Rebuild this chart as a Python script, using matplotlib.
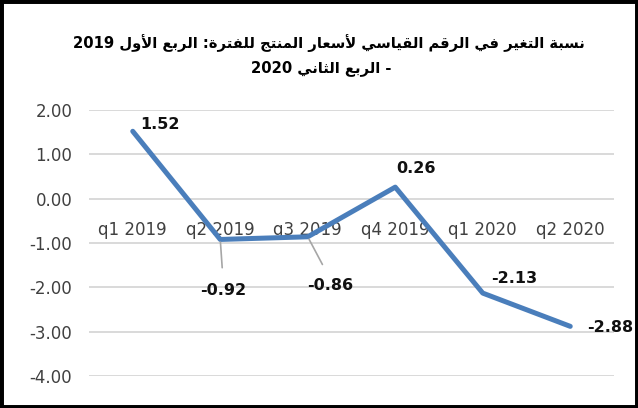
import re
import matplotlib
matplotlib.use("Agg")
import matplotlib.pyplot as plt
from matplotlib.patches import Rectangle

# data
quarters = ["q1 2019", "q2 2019", "q3 2019", "q4 2019", "q1 2020", "q2 2020"]
change = [1.52, -0.92, -0.86, 0.26, -2.13, -2.88]
y_ticks = [-4, -3, -2, -1, 0, 1, 2]
title_lines = ["نسبة التغير في الرقم القياسي لأسعار المنتج للفترة: الربع الأول 2019",
               "- الربع الثاني 2020"]

# label offsets in pixels (dx, dy) from each point
label_offsets = [(27, 7), (3, -51), (22, -49), (21, 19), (31, 15), (40, -1)]
leader = [False, True, True, False, False, False]

# minimal arabic shaping (matplotlib has no complex text layout)
FORMS = {
    '\u0621': (0xFE80, 1), '\u0622': (0xFE81, 2), '\u0623': (0xFE83, 2), '\u0624': (0xFE85, 2),
    '\u0625': (0xFE87, 2), '\u0626': (0xFE89, 4), '\u0627': (0xFE8D, 2), '\u0628': (0xFE8F, 4),
    '\u0629': (0xFE93, 2), '\u062A': (0xFE95, 4), '\u062B': (0xFE99, 4), '\u062C': (0xFE9D, 4),
    '\u062D': (0xFEA1, 4), '\u062E': (0xFEA5, 4), '\u062F': (0xFEA9, 2), '\u0630': (0xFEAB, 2),
    '\u0631': (0xFEAD, 2), '\u0632': (0xFEAF, 2), '\u0633': (0xFEB1, 4), '\u0634': (0xFEB5, 4),
    '\u0635': (0xFEB9, 4), '\u0636': (0xFEBD, 4), '\u0637': (0xFEC1, 4), '\u0638': (0xFEC5, 4),
    '\u0639': (0xFEC9, 4), '\u063A': (0xFECD, 4), '\u0641': (0xFED1, 4), '\u0642': (0xFED5, 4),
    '\u0643': (0xFED9, 4), '\u0644': (0xFEDD, 4), '\u0645': (0xFEE1, 4), '\u0646': (0xFEE5, 4),
    '\u0647': (0xFEE9, 4), '\u0648': (0xFEED, 2), '\u0649': (0xFEEF, 2), '\u064A': (0xFEF1, 4),
}
LAM_ALEF = {'\u0622': 0xFEF5, '\u0623': 0xFEF7, '\u0625': 0xFEF9, '\u0627': 0xFEFB}


def nforms(c):
    if isinstance(c, tuple):
        return 2
    return FORMS.get(c, (0, 0))[1]


def shape(s):
    chars = []
    i = 0
    while i < len(s):
        if s[i] == '\u0644' and i + 1 < len(s) and s[i + 1] in LAM_ALEF:
            chars.append(('LA', s[i + 1]))
            i += 2
        else:
            chars.append(s[i])
            i += 1
    out = []
    for k, c in enumerate(chars):
        n = nforms(c)
        if n == 0:
            out.append(c)
            continue
        prev = chars[k - 1] if k > 0 else None
        nxt = chars[k + 1] if k + 1 < len(chars) else None
        jp = prev is not None and nforms(prev) == 4
        if isinstance(c, tuple):
            out.append(chr(LAM_ALEF[c[1]] + (1 if jp else 0)))
            continue
        if n == 1:
            out.append(chr(FORMS[c][0]))
            continue
        jn = n == 4 and nxt is not None and nforms(nxt) > 1
        if jp and jn:
            form = 3
        elif jp:
            form = 1
        elif jn:
            form = 2
        else:
            form = 0
        out.append(chr(FORMS[c][0] + form))
    return ''.join(out)


def rtl(s):
    v = shape(s)[::-1]
    return re.sub(r'[0-9]+', lambda m: m.group(0)[::-1], v)


W, H = 638, 408
fig = plt.figure(figsize=(W / 100, H / 100), dpi=100)
ax = fig.add_axes([89 / W, 32 / H, 525 / W, 266 / H])

x = list(range(len(quarters)))
ax.plot(x, change, color='#4a7ebb', lw=3.6, solid_capstyle='round', zorder=3)

ax.set_xlim(-0.5, len(quarters) - 0.5)
ax.set_ylim(-4, 2)
ax.set_yticks(y_ticks)
ax.set_yticklabels([f"{v:.2f}" for v in y_ticks])
ax.yaxis.grid(True, color='#d9d9d9', lw=1.4)
ax.set_axisbelow(True)
for s in ax.spines.values():
    s.set_visible(False)
ax.spines['bottom'].set_position(('data', 0))
ax.set_xticks(x)
ax.set_xticklabels(quarters)
ax.tick_params(axis='x', length=0, pad=16, labelsize=12, labelcolor='#404040')
ax.tick_params(axis='y', length=0, pad=12, labelsize=12, labelcolor='#404040')

for i, (v, (dx, dy)) in enumerate(zip(change, label_offsets)):
    props = None
    if leader[i]:
        props = dict(arrowstyle='-', color='#a6a6a6', lw=1.2, shrinkA=9, shrinkB=2,
                     relpos=(0.5, 1.0))
    ax.annotate(f"{v:.2f}", (i, v), xytext=(dx * 0.72, dy * 0.72), textcoords='offset points',
                ha='center', va='center', fontsize=11.5, fontweight='bold', color='#111111',
                arrowprops=props, zorder=4)

fig.text(329 / W, 1 - 43 / H, rtl(title_lines[0]), ha='center', va='center',
         fontsize=10.6, fontweight='bold', family=['DejaVu Sans'])
fig.text(321 / W, 1 - 68 / H, rtl(title_lines[1]), ha='center', va='center',
         fontsize=10.6, fontweight='bold', family=['DejaVu Sans'])

fig.patches.append(Rectangle((0, 0), 1, 1, transform=fig.transFigure, fill=False,
                             edgecolor='black', lw=5))

fig.savefig('out.png', dpi=100)
